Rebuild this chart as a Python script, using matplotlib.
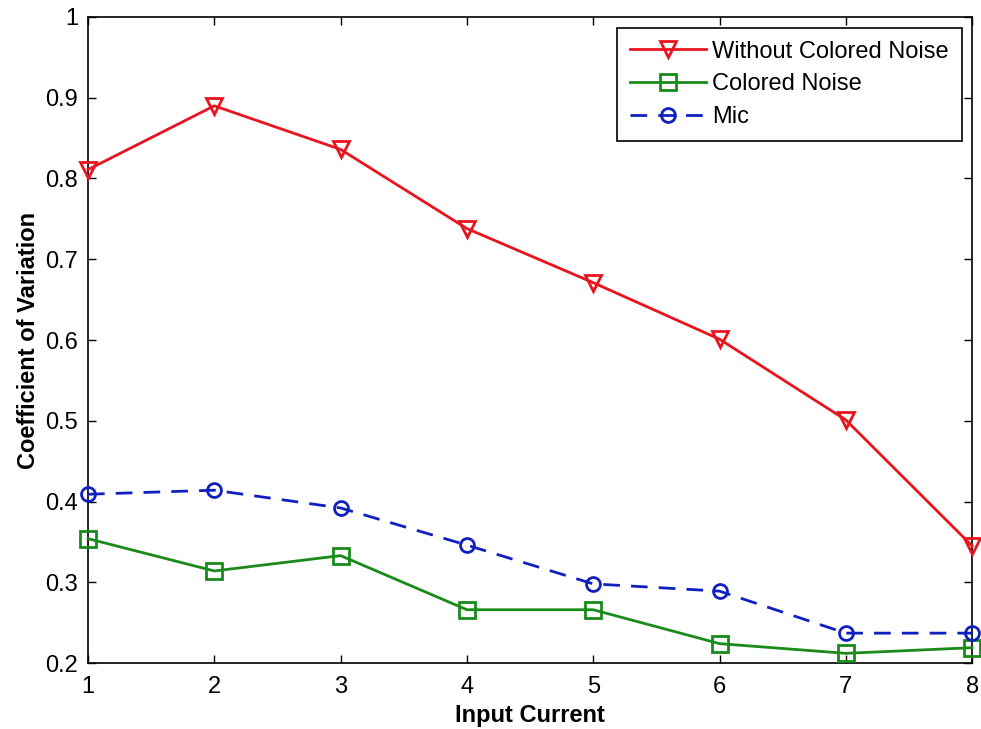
import matplotlib.pyplot as plt

plt.rcParams['font.family'] = ['Liberation Sans', 'DejaVu Sans']

current = [1, 2, 3, 4, 5, 6, 7, 8]
without_colored = [0.811, 0.890, 0.836, 0.738, 0.671, 0.601, 0.501, 0.345]
colored = [0.354, 0.314, 0.333, 0.266, 0.266, 0.224, 0.212, 0.219]
mic = [0.409, 0.414, 0.392, 0.346, 0.298, 0.289, 0.237, 0.237]

fig = plt.figure(figsize=(9.81, 7.29), dpi=100)
ax = fig.add_axes([0.0897, 0.0905, 0.9013, 0.8862])

ax.plot(current, without_colored, color='#e8141e', linewidth=2, marker='v',
        markersize=11, markerfacecolor='none', markeredgewidth=2,
        label='Without Colored Noise', clip_on=False, zorder=3)
ax.plot(current, colored, color='#1a8a1a', linewidth=2, marker='s',
        markersize=11, markerfacecolor='none', markeredgewidth=2,
        label='Colored Noise', clip_on=False, zorder=3)
ax.plot(current, mic, color='#1020c0', linewidth=2, linestyle=(0, (6, 4)),
        marker='o', markersize=10, markerfacecolor='none', markeredgewidth=2,
        label='Mic', clip_on=False, zorder=3)

ax.set_xlim(1, 8)
ax.set_ylim(0.2, 1.0)
ax.set_xticks(current)
ax.set_yticks([0.2, 0.3, 0.4, 0.5, 0.6, 0.7, 0.8, 0.9, 1.0])
ax.set_yticklabels(['0.2', '0.3', '0.4', '0.5', '0.6', '0.7', '0.8', '0.9', '1'])
ax.tick_params(direction='in', top=True, right=True, length=6, width=1,
               labelsize=17)
ax.tick_params(axis='x', pad=9)
ax.tick_params(axis='y', pad=7)
for s in ax.spines.values():
    s.set_linewidth(1.2)

ax.set_xlabel('Input Current', fontsize=17, fontweight='bold', labelpad=5)
ax.set_ylabel('Coefficient of Variation', fontsize=17, fontweight='bold', labelpad=4)

leg = ax.legend(loc='upper right', fontsize=17, frameon=True, fancybox=False,
                edgecolor='black', framealpha=1, handlelength=3.2,
                handletextpad=0.25, borderpad=0.55, labelspacing=0.45,
                borderaxespad=0.45)
leg.get_frame().set_linewidth(1.2)

fig.savefig('out.png', dpi=100)
